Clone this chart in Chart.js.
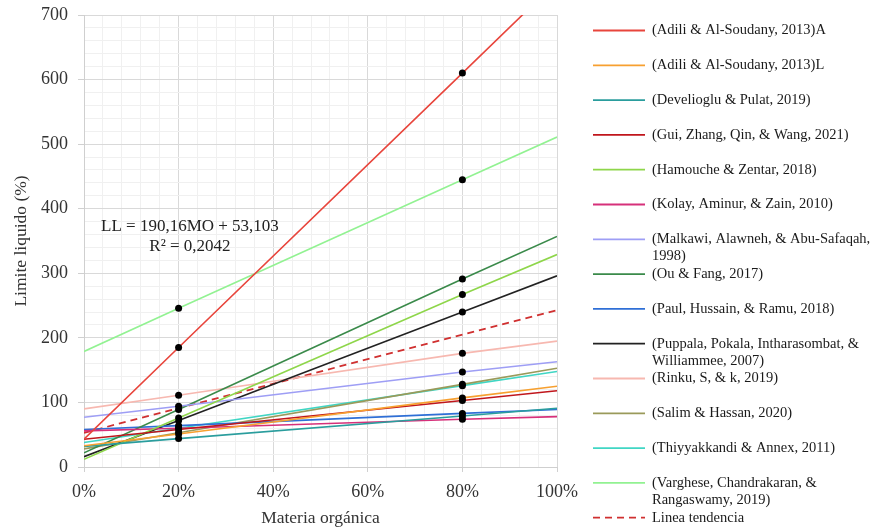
<!DOCTYPE html>
<html>
<head>
<meta charset="utf-8">
<script src="https://cdn.jsdelivr.net/npm/chart.js@4.4.1/dist/chart.umd.min.js"></script>
<style>
  html, body { margin: 0; padding: 0; background: #fff; }
</style>
</head>
<body>
<canvas id="myChart" width="876" height="531"></canvas>
<script>
// x positions (% materia organica)
const xValues = [0, 20, 80, 100];

const studies = [
    ['(Adili & Al-Soudany, 2013)A'],
    ['(Adili & Al-Soudany, 2013)L'],
    ['(Develioglu & Pulat, 2019)'],
    ['(Gui, Zhang, Qin, & Wang, 2021)'],
    ['(Hamouche & Zentar, 2018)'],
    ['(Kolay, Aminur, & Zain, 2010)'],
    ['(Malkawi, Alawneh, & Abu-Safaqah,', '1998)'],
    ['(Ou & Fang, 2017)'],
    ['(Paul, Hussain, & Ramu, 2018)'],
    ['(Puppala, Pokala, Intharasombat, &', 'Williammee, 2007)'],
    ['(Rinku, S, & k, 2019)'],
    ['(Salim & Hassan, 2020)'],
    ['(Thiyyakkandi & Annex, 2011)'],
    ['(Varghese, Chandrakaran, &', 'Rangaswamy, 2019)']
];

// limite liquido at 0%, 20%, 80%, 100%
const adiliA      = [43, 185, 610, 752];
const adiliL      = [33, 51, 107, 125];
const develioglu  = [32, 44, 79, 91];
const gui         = [43, 58, 103, 118];
const hamouche    = [12, 76, 267, 329];
const kolay       = [56, 60, 74, 78];
const malkawi     = [77, 94, 147, 163];
const ouFang      = [22, 89, 291, 357];
const paul        = [58, 64, 83, 89];
const puppala     = [16, 72, 240, 296];
const rinku       = [90, 111, 176, 195];
const salim       = [28, 53, 128, 153];
const thiyyakkandi = [38, 60, 126, 148];
const varghese    = [179, 246, 445, 511];

const trendX = [0, 100];
const trendY = [53, 243];
const trendLabel = 'Linea tendencia';

const seriesValues = [adiliA, adiliL, develioglu, gui, hamouche, kolay, malkawi,
    ouFang, paul, puppala, rinku, salim, thiyyakkandi, varghese];

const colors = ['#e8453c', '#f7a030', '#2a9d9d', '#c0161c', '#8ed64a', '#d6307a',
    '#9e9ef5', '#3a8a4a', '#2f6fd6', '#222222', '#f7b8b0', '#9a9a5a', '#40d6c4', '#92f292'];
const trendColor = '#d03030';

const serif = '"Liberation Serif", "Times New Roman", serif';

const datasets = seriesValues.map((vals, i) => ({
    label: studies[i].join(' '),
    data: vals.map((v, j) => ({ x: xValues[j], y: v })),
    borderColor: colors[i],
    borderWidth: 1.6,
    pointRadius: [0, 3.5, 3.5, 0],
    pointBackgroundColor: '#000',
    pointBorderColor: '#000',
    pointBorderWidth: 0,
    fill: false,
    tension: 0
}));
datasets.push({
    label: trendLabel,
    data: trendY.map((v, j) => ({ x: trendX[j], y: v })),
    borderColor: trendColor,
    borderWidth: 1.8,
    borderDash: [7, 5],
    pointRadius: 0,
    fill: false
});

const legendLines = studies.concat([[trendLabel]]);

const sideLegend = {
    id: 'sideLegend',
    afterDraw(chart) {
        const c = chart.ctx;
        c.save();
        c.font = '14.5px ' + serif;
        c.textBaseline = 'middle';
        c.fillStyle = '#1a1a1a';
        legendLines.forEach((lines, i) => {
            const y = 30.5 + 34.8 * i;
            const ds = chart.data.datasets[i];
            c.beginPath();
            c.strokeStyle = ds.borderColor;
            c.lineWidth = 1.8;
            c.setLineDash(ds.borderDash || []);
            c.moveTo(593, y);
            c.lineTo(645, y);
            c.stroke();
            c.setLineDash([]);
            lines.forEach((t, k) => c.fillText(t, 652, y + k * 17));
        });
        // trend equation
        const xs = chart.scales.x, ys = chart.scales.y;
        c.font = '17px ' + serif;
        c.textAlign = 'center';
        c.fillStyle = '#222';
        c.fillText('LL = 190,16MO + 53,103', xs.getPixelForValue(22.4), ys.getPixelForValue(373));
        c.fillText('R² = 0,2042', xs.getPixelForValue(22.4), ys.getPixelForValue(342));
        c.restore();
    }
};

const ctx = document.getElementById('myChart').getContext('2d');
const myChart = new Chart(ctx, {
    type: 'line',
    data: { datasets: datasets },
    plugins: [sideLegend],
    options: {
        responsive: false,
        animation: false,
        layout: { padding: { left: 0, right: 319, top: 15, bottom: 0 } },
        plugins: {
            legend: { display: false },
            tooltip: { enabled: false }
        },
        scales: {
            x: {
                type: 'linear',
                min: 0,
                max: 100,
                afterFit: s => { s.height = 64; },
                ticks: {
                    stepSize: 4,
                    autoSkip: false,
                    maxRotation: 0,
                    padding: 9,
                    color: '#333',
                    font: { family: serif, size: 18 },
                    callback: v => (v % 20 === 0 ? v + '%' : '')
                },
                grid: {
                    color: c => (c.tick && c.tick.value % 20 === 0 ? '#d9d9d9' : '#f0f0f0'),
                    tickColor: c => (c.tick && c.tick.value % 20 === 0 ? '#d0d0d0' : 'rgba(0,0,0,0)'),
                    tickLength: 5
                },
                border: { color: '#cfcfcf' },
                title: {
                    display: true,
                    text: 'Materia orgánica',
                    color: '#333',
                    font: { family: serif, size: 17.5 },
                    padding: { top: 5, bottom: 2 }
                }
            },
            y: {
                min: 0,
                max: 700,
                afterFit: s => { s.width = 84; s.paddingTop = 0; s.paddingBottom = 0; },
                ticks: {
                    stepSize: 20,
                    autoSkip: false,
                    padding: 10,
                    color: '#333',
                    font: { family: serif, size: 18 },
                    callback: v => (v % 100 === 0 ? v : '')
                },
                grid: {
                    color: c => (c.tick && c.tick.value % 100 === 0 ? '#d9d9d9' : '#f0f0f0'),
                    tickColor: c => (c.tick && c.tick.value % 100 === 0 ? '#d0d0d0' : 'rgba(0,0,0,0)'),
                    tickLength: 6
                },
                border: { color: '#cfcfcf' },
                title: {
                    display: true,
                    text: 'Limite liquido (%)',
                    color: '#333',
                    font: { family: serif, size: 17.5 },
                    padding: { top: 11, bottom: 0 }
                }
            }
        }
    }
});
</script>
</body>
</html>
